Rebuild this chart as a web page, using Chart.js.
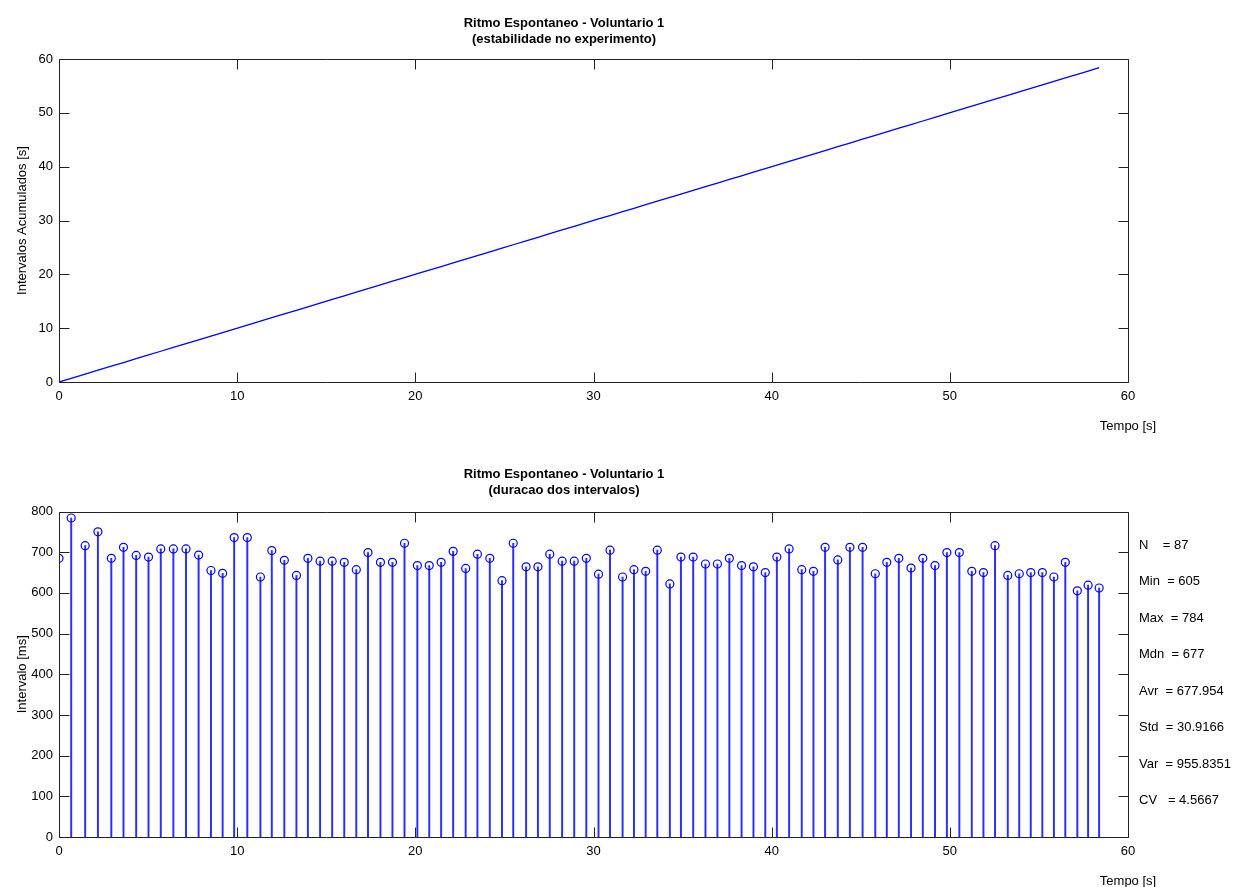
<!DOCTYPE html>
<html>
<head>
<meta charset="utf-8">
<script src="https://cdn.jsdelivr.net/npm/chart.js@4.4.0/dist/chart.umd.min.js"></script>
<style>
  html, body { margin: 0; padding: 0; background: #fff; }
  body { width: 1234px; height: 887px; position: relative; overflow: hidden; }
  canvas { position: absolute; left: 0; }
  #c1 { top: 0; }
  #c2 { top: 443px; }
</style>
</head>
<body>
<canvas id="c1" width="1234" height="443"></canvas>
<canvas id="c2" width="1234" height="444"></canvas>
<script>
// ---------------- DATA ----------------
const chartTitle = 'Ritmo Espontaneo - Voluntario 1';
const subtitleTop = '(estabilidade no experimento)';
const subtitleBottom = '(duracao dos intervalos)';
const xAxisLabel = 'Tempo [s]';
const yAxisLabelTop = 'Intervalos Acumulados [s]';
const yAxisLabelBottom = 'Intervalo [ms]';

// interval durations in ms (87 beats)
const intervalsMs = [
  685, 784, 716, 750, 685, 712, 692, 688, 708, 708,
  708, 693, 655, 648, 736, 736, 639, 704, 680, 643,
  685, 678, 678, 675, 657, 699, 675, 675, 722, 667,
  667, 675, 702, 660, 695, 685, 630, 722, 664, 664,
  695, 678, 678, 685, 646, 705, 639, 657, 653, 705,
  622, 688, 688, 671, 671, 685, 667, 664, 650, 688,
  708, 657, 653, 712, 681, 712, 712, 647, 675, 685,
  661, 685, 667, 699, 699, 653, 650, 716, 643, 647,
  650, 650, 639, 675, 605, 619, 612
];

const xTicks = [0, 10, 20, 30, 40, 50, 60];
const yTicksTop = [0, 10, 20, 30, 40, 50, 60];
const yTicksBottom = [0, 100, 200, 300, 400, 500, 600, 700, 800];

const statsLabels = [
  'N    = 87',
  'Min  = 605',
  'Max  = 784',
  'Mdn  = 677',
  'Avr  = 677.954',
  'Std  = 30.9166',
  'Var  = 955.8351',
  'CV   = 4.5667'
];

// beat times (s): cumulative sum of previous intervals, starting at 0
const beatTimes = [];
let acc = 0;
for (const v of intervalsMs) { beatTimes.push(acc / 1000); acc += v; }

// ---------------- STYLE ----------------
const FONT = "'Liberation Sans', Arial, sans-serif";
const FS = 13;
const BLUE = 'rgb(0,0,255)';
const STEM = 'rgb(45,45,255)';
const AXIS = '#222';

function boxAndTicks(extraText) {
  return {
    id: 'boxTicks',
    afterDraw(chart) {
      const ctx = chart.ctx;
      const a = chart.chartArea;
      const xs = chart.scales.x, ys = chart.scales.y;
      const L = Math.round(a.left) + 0.5, R = Math.round(a.right) + 0.5;
      const T = Math.round(a.top) + 0.5, B = Math.round(a.bottom) + 0.5;
      ctx.save();
      ctx.strokeStyle = AXIS;
      ctx.lineWidth = 1;
      ctx.beginPath();
      ctx.rect(L, T, R - L, B - T);
      const tl = 10;
      xs.ticks.forEach(t => {
        const p = Math.round(xs.getPixelForValue(t.value)) + 0.5;
        ctx.moveTo(p, B); ctx.lineTo(p, B - tl);
        ctx.moveTo(p, T); ctx.lineTo(p, T + tl);
      });
      ys.ticks.forEach(t => {
        const p = Math.round(ys.getPixelForValue(t.value)) + 0.5;
        ctx.moveTo(L, p); ctx.lineTo(L + tl, p);
        ctx.moveTo(R, p); ctx.lineTo(R - tl, p);
      });
      ctx.stroke();
      // x axis label centered under the last tick
      ctx.fillStyle = '#000';
      ctx.font = FS + 'px ' + FONT;
      ctx.textAlign = 'center';
      ctx.textBaseline = 'middle';
      ctx.fillText(xAxisLabel, xs.getPixelForValue(60), a.bottom + 44);
      if (extraText) extraText(chart, ctx);
      ctx.restore();
    }
  };
}

function tickCallbackFrom(list) {
  return (v) => (list.includes(v) ? String(v) : '');
}

function baseScales(yMax, yStep, yTicks, yTitle, xHeight) {
  return {
    x: {
      type: 'linear', min: 0, max: 60, offset: false,
      grid: { display: false, drawTicks: false, tickLength: 0 },
      border: { display: false },
      ticks: {
        stepSize: 10, padding: 7, color: '#000', maxRotation: 0,
        font: { family: FONT, size: FS },
        callback: tickCallbackFrom(xTicks)
      },
      afterFit(s) { s.height = xHeight; }
    },
    y: {
      type: 'linear', min: 0, max: yMax,
      grid: { display: false, drawTicks: false, tickLength: 0 },
      border: { display: false },
      ticks: {
        stepSize: yStep, padding: 6, color: '#000',
        font: { family: FONT, size: FS },
        callback: tickCallbackFrom(yTicks)
      },
      title: {
        display: true, text: yTitle, color: '#000',
        font: { family: FONT, size: FS, lineHeight: 1.2 },
        padding: { top: 14.2, bottom: 0 }
      },
      afterFit(s) { s.width = 59; }
    }
  };
}

// ---------------- TOP CHART ----------------
new Chart(document.getElementById('c1'), {
  type: 'line',
  data: {
    datasets: [{
      data: beatTimes.map(t => ({ x: t, y: t })),
      borderColor: BLUE,
      borderWidth: 1.3,
      pointRadius: 0,
      tension: 0,
      fill: false
    }]
  },
  options: {
    responsive: false,
    animation: false,
    devicePixelRatio: 1,
    layout: { padding: { left: 0, right: 106, top: 0, bottom: 0 } },
    plugins: {
      legend: { display: false },
      tooltip: { enabled: false },
      title: {
        display: true,
        text: [chartTitle, subtitleTop],
        color: '#000',
        font: { family: FONT, size: 13, weight: 'bold', lineHeight: 1.25 },
        padding: { top: 15, bottom: 11.5 }
      }
    },
    scales: baseScales(60, 10, yTicksTop, yAxisLabelTop, 61)
  },
  plugins: [boxAndTicks(null)]
});

// ---------------- BOTTOM CHART ----------------
new Chart(document.getElementById('c2'), {
  type: 'bar',
  data: {
    datasets: [
      {
        type: 'scatter',
        data: beatTimes.map((t, i) => ({ x: t, y: intervalsMs[i] })),
        borderColor: BLUE,
        backgroundColor: 'rgba(0,0,0,0)',
        pointBackgroundColor: 'rgba(0,0,0,0)',
        pointBorderColor: BLUE,
        pointBorderWidth: 1.2,
        pointRadius: 4,
        pointStyle: 'circle',
        showLine: false
      },
      {
        type: 'bar',
        data: beatTimes.map((t, i) => ({ x: t, y: intervalsMs[i] })),
        backgroundColor: STEM,
        borderWidth: 0,
        barThickness: 1.3,
        grouped: false
      }
    ]
  },
  options: {
    responsive: false,
    animation: false,
    devicePixelRatio: 1,
    layout: { padding: { left: 0, right: 106, top: 0, bottom: 0 } },
    plugins: {
      legend: { display: false },
      tooltip: { enabled: false },
      title: {
        display: true,
        text: [chartTitle, subtitleBottom],
        color: '#000',
        font: { family: FONT, size: 13, weight: 'bold', lineHeight: 1.25 },
        padding: { top: 23, bottom: 13 }
      }
    },
    scales: baseScales(800, 100, yTicksBottom, yAxisLabelBottom, 50)
  },
  plugins: [boxAndTicks((chart, ctx) => {
    ctx.textAlign = 'left';
    ctx.textBaseline = 'middle';
    ctx.font = FS + 'px ' + FONT;
    statsLabels.forEach((s, i) => {
      ctx.fillText(s, 1139, 102 + i * 36.5);
    });
  })]
});
</script>
</body>
</html>
